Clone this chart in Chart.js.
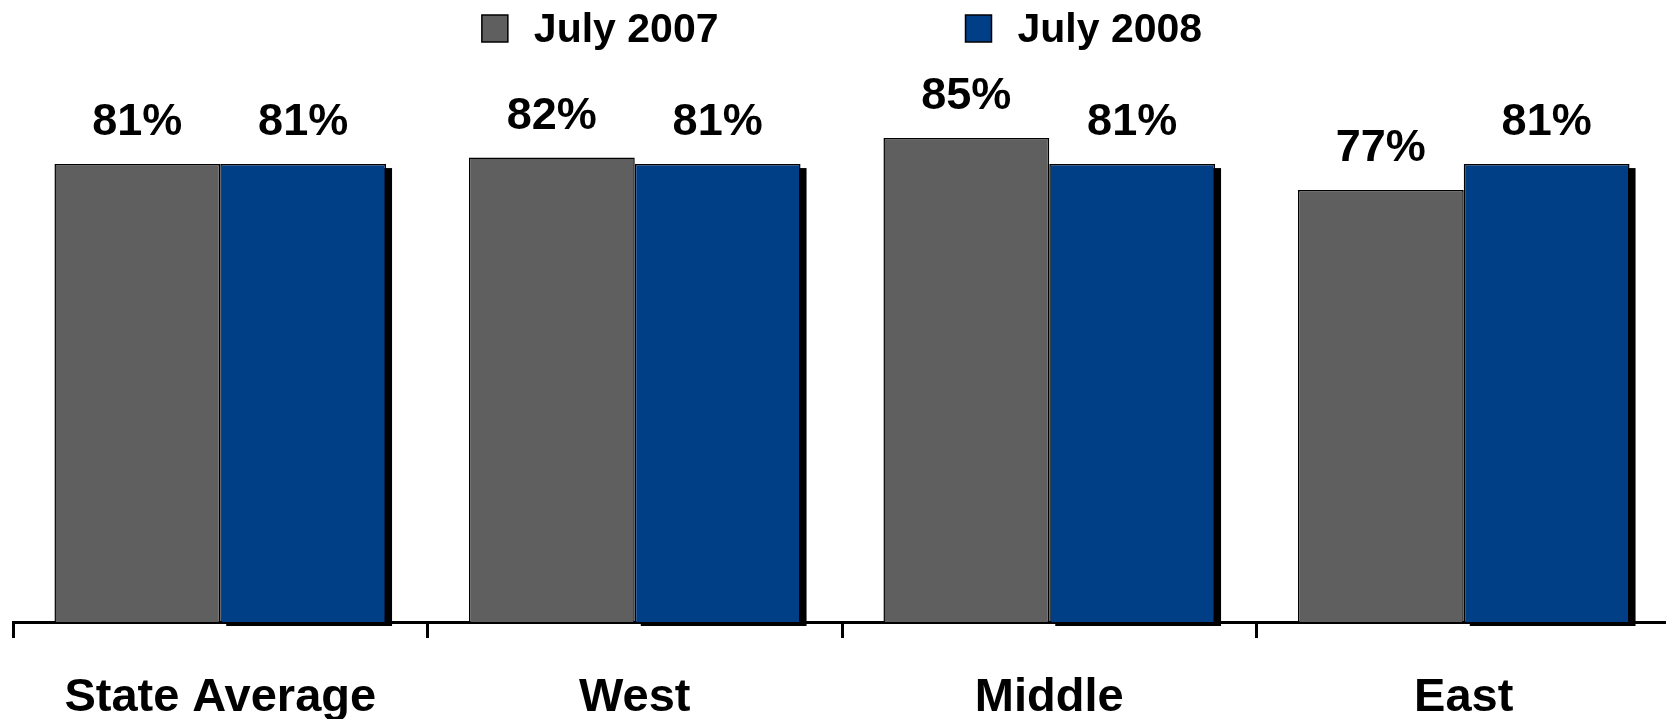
<!DOCTYPE html>
<html>
<head>
<meta charset="utf-8">
<title>July 2007 vs July 2008</title>
<script src="https://cdn.jsdelivr.net/npm/chart.js@4/dist/chart.umd.min.js"></script>
<style>
    html, body { margin: 0; padding: 0; background: #fff; overflow: hidden; }
    /* a bit taller/wider than the window, the edges get cut off like in the original */
    #wrap { width: 1680px; height: 761px; position: relative; }
</style>
</head>
<body>
<div id="wrap"><canvas id="chart1"></canvas></div>
<script>
// data
var regions = ['State Average', 'West', 'Middle', 'East'];
var seriesNames = ['July 2007', 'July 2008'];
var july2007 = [81, 82, 85, 77];
var july2008 = [81, 81, 81, 81];
var seriesColors = ['#5f5f5f', '#003e86'];

var fontFamily = '"Liberation Sans", Arial, Helvetica, sans-serif';

/* drop shadow behind the blue bars */
var shadowPlugin = {
    id: 'barShadow',
    beforeDatasetsDraw: function (chart) {
        var ctx = chart.ctx;
        var bottom = chart.chartArea.bottom;
        chart.data.datasets.forEach(function (ds, i) {
            if (!ds.shadow) return;
            var meta = chart.getDatasetMeta(i);
            ctx.save();
            ctx.fillStyle = '#000';
            meta.data.forEach(function (bar) {
                var p = bar.getProps(['x', 'y', 'width'], true);
                ctx.fillRect(p.x - p.width / 2 + 6, p.y + 4, p.width, bottom - p.y);
            });
            ctx.restore();
        });
    }
};

/* percent labels above each bar */
var valuePlugin = {
    id: 'valueLabels',
    afterDatasetsDraw: function (chart) {
        var ctx = chart.ctx;
        ctx.save();
        ctx.font = 'bold 45px ' + fontFamily;
        ctx.fillStyle = '#000';
        ctx.textAlign = 'center';
        ctx.textBaseline = 'alphabetic';
        chart.data.datasets.forEach(function (ds, i) {
            var meta = chart.getDatasetMeta(i);
            meta.data.forEach(function (bar, j) {
                ctx.fillText(Math.round(ds.data[j]) + '%', bar.x, bar.y - 29);
            });
        });
        ctx.restore();
    }
};

/* legend row on top, wide gap between the two items */
var legendPlugin = {
    id: 'topLegend',
    afterDraw: function (chart) {
        var ctx = chart.ctx;
        var area = chart.chartArea;
        var sets = chart.data.datasets;
        var box = 26, gap = 26, spacing = 247;
        ctx.save();
        ctx.font = 'bold 41px ' + fontFamily;
        var widths = sets.map(function (ds) {
            return box + gap + ctx.measureText(ds.label).width;
        });
        var total = widths.reduce(function (a, b) { return a + b; }, 0) + spacing * (sets.length - 1);
        var x = (area.left + area.right) / 2 - total / 2;
        sets.forEach(function (ds, i) {
            ctx.fillStyle = ds.backgroundColor;
            ctx.fillRect(x, 15, box, 27);
            ctx.strokeStyle = '#000';
            ctx.lineWidth = 1.5;
            ctx.strokeRect(x, 15, box, 27);
            ctx.fillStyle = '#000';
            ctx.textAlign = 'left';
            ctx.textBaseline = 'alphabetic';
            ctx.fillText(ds.label, x + box + gap, 42);
            x += widths[i] + spacing;
        });
        ctx.restore();
    }
};

var ctx = document.getElementById('chart1').getContext('2d');
var myChart = new Chart(ctx, {
    type: 'bar',
    data: {
        labels: regions,
        datasets: [{
            label: seriesNames[0],
            data: july2007,
            backgroundColor: seriesColors[0],
            borderColor: '#000',
            borderWidth: 1.5,
            categoryPercentage: 0.8,
            barPercentage: 1
        }, {
            label: seriesNames[1],
            data: july2008,
            backgroundColor: seriesColors[1],
            borderColor: '#000',
            borderWidth: 1.5,
            categoryPercentage: 0.8,
            barPercentage: 1,
            shadow: true
        }]
    },
    options: {
        responsive: true,
        maintainAspectRatio: false,
        animation: false,
        layout: {
            padding: { left: 13, right: 9, top: 60, bottom: 2 }
        },
        plugins: {
            legend: { display: false },
            tooltip: { enabled: false }
        },
        scales: {
            x: {
                grid: {
                    offset: true,
                    drawOnChartArea: false,
                    drawTicks: true,
                    tickLength: 16,
                    tickWidth: 3,
                    tickColor: '#000'
                },
                border: { display: true, color: '#000', width: 3 },
                ticks: {
                    color: '#000',
                    padding: 37,
                    font: { family: fontFamily, size: 47, weight: 'bold', lineHeight: 1 }
                }
            },
            y: {
                display: false,
                min: 10.6,
                max: 97
            }
        }
    },
    plugins: [shadowPlugin, valuePlugin, legendPlugin]
});
</script>
</body>
</html>
